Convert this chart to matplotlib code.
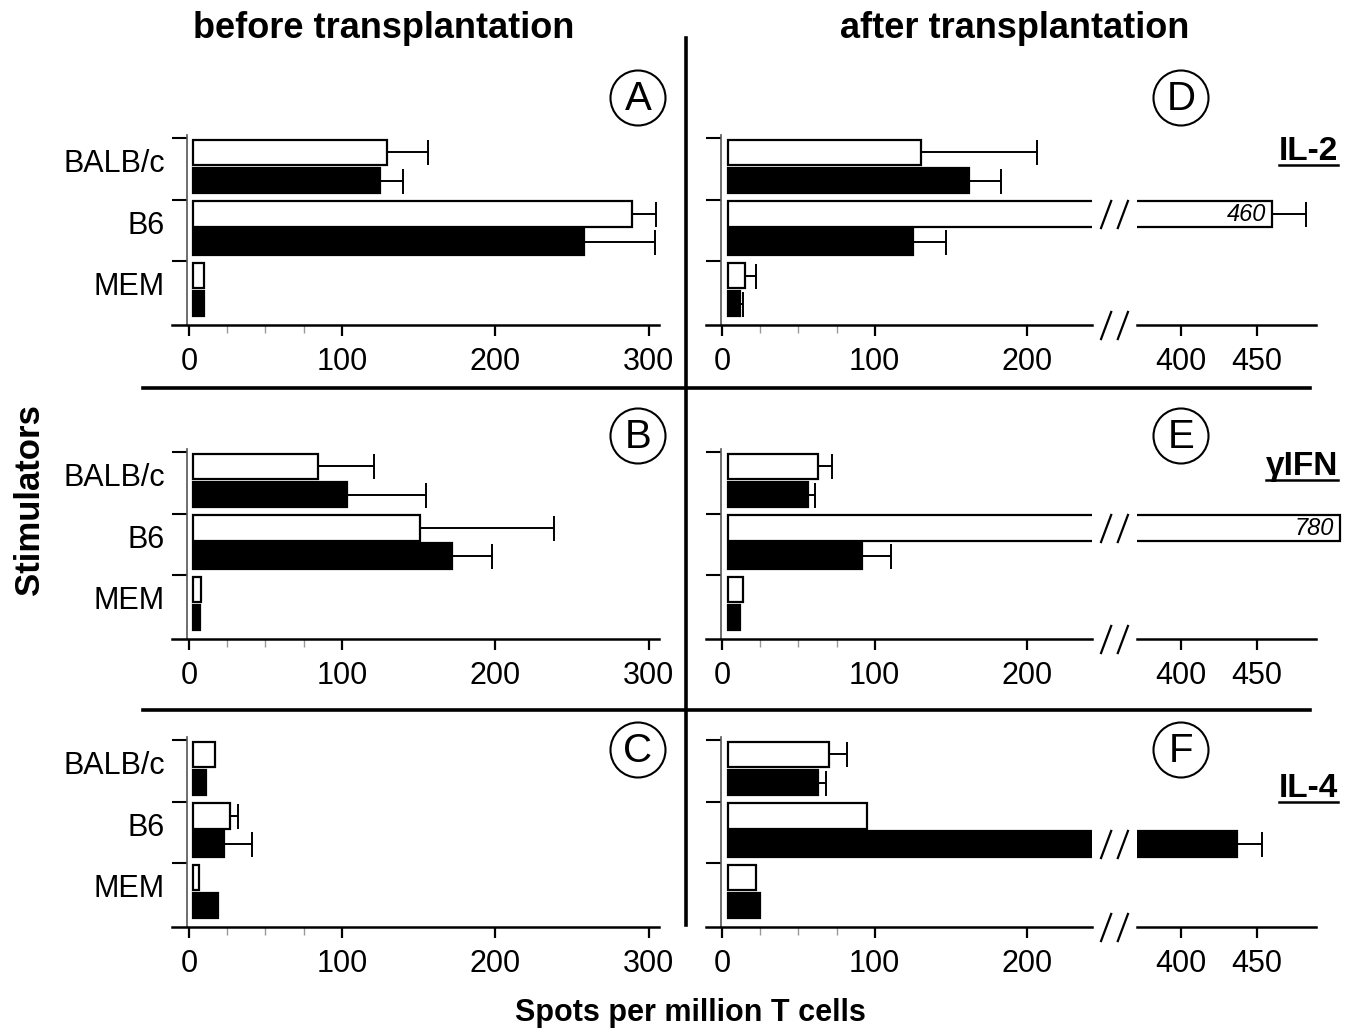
import matplotlib
matplotlib.use("Agg")
import numpy as np
import matplotlib.pyplot as plt
import matplotlib.transforms as mtransforms
from matplotlib.lines import Line2D
from matplotlib.patches import Circle
from matplotlib.path import Path

plt.rcParams['font.family'] = ['Liberation Sans', 'DejaVu Sans']

# 刺激细胞
stimulators = ["BALB/c", "B6", "MEM"]

# 移植前 (A: IL-2, B: γIFN, C: IL-4)
a_open = [129, 289, 10]
a_open_err = [27, 16, 0]
a_filled = [125, 258, 10]
a_filled_err = [15, 46, 0]

b_open = [84, 151, 8]
b_open_err = [37, 87, 0]
b_filled = [103, 172, 7]
b_filled_err = [52, 26, 0]

c_open = [17, 27, 6.5]
c_open_err = [0, 5, 0]
c_filled = [11, 23, 19]
c_filled_err = [0, 18, 0]

# 移植后 (D: IL-2, E: γIFN, F: IL-4)
d_open = [130, 460, 15]
d_open_err = [76, 22, 7]
d_filled = [162, 125, 12]
d_filled_err = [21, 22, 2]

e_open = [63, 780, 14]
e_open_err = [9, 0, 0]
e_filled = [56, 92, 12]
e_filled_err = [5, 19, 0]

f_open = [70, 95, 22]
f_open_err = [12, 0, 0]
f_filled = [63, 437, 25]
f_filled_err = [5, 16, 0]

cytokines = ["IL-2", "γIFN", "IL-4"]
panel_letters_left = ["A", "B", "C"]
panel_letters_right = ["D", "E", "F"]
left_ticks = [0, 100, 200, 300]
right_ticks_lo = [0, 100, 200]
right_ticks_hi = [400, 450]
minor_ticks = [25, 50, 75]
value_labels = {"D": (1, "open", "460"), "E": (1, "open", "780")}

# 版面 (像素)
W, H = 1356, 1030
G = 61.6
YTOP, YBOT = -0.05, 3.03
row_top = [138, 452, 740]
LO_MAX = 242        # 断轴前的上限
HI_MIN = 371        # 断轴后的下限
HI_AXIS_END = 489
HI_SHOW = 505       # 超出的条形画到这里
BREAK_X = 1114

# "//" 断轴符号
brk = Path([(-0.95, -1), (-0.2, 1), (0.2, -1), (0.95, 1)],
           [Path.MOVETO, Path.LINETO, Path.MOVETO, Path.LINETO])

fig = plt.figure(figsize=(W / 100, H / 100), dpi=100)


def box(x0, x1, y0):
    top = y0 + YTOP * G
    bot = y0 + YBOT * G
    return [x0 / W, 1 - bot / H, (x1 - x0) / W, (bot - top) / H]


def bars(ax, opn, opn_err, fil, fil_err, base):
    y = np.arange(3)
    for vals, errs, off, col in [(opn, opn_err, 0.235, "white"), (fil, fil_err, 0.69, "black")]:
        w = [min(v, HI_SHOW) - base for v in vals]
        ax.barh(y + off, w, left=base, height=0.41, color=col,
                edgecolor="black", linewidth=1.6)
        for yi, v, e in zip(y, vals, errs):
            if e > 0:
                ax.errorbar(v, yi + off, xerr=[[0], [e]], fmt="none", ecolor="black",
                            elinewidth=1.4, capsize=9, capthick=1.4)


def common(ax):
    ax.set_ylim(YBOT, YTOP)
    ax.spines["top"].set_visible(False)
    ax.spines["right"].set_visible(False)
    ax.spines["bottom"].set_linewidth(1.8)
    ax.tick_params(axis="x", which="major", length=8, width=1.6, pad=8, labelsize=22)
    ax.tick_params(axis="x", which="minor", length=6, width=1, color="#999999")
    ax.set_facecolor("none")


def break_mark(ax, y):
    tr = mtransforms.blended_transform_factory(fig.transFigure, ax.transData)
    ax.plot([BREAK_X / W], [y], marker=brk, markersize=21, color="black",
            markeredgewidth=1.6, linestyle="none", transform=tr, clip_on=False)


data_left = [(a_open, a_open_err, a_filled, a_filled_err),
             (b_open, b_open_err, b_filled, b_filled_err),
             (c_open, c_open_err, c_filled, c_filled_err)]
data_right = [(d_open, d_open_err, d_filled, d_filled_err),
              (e_open, e_open_err, e_filled, e_filled_err),
              (f_open, f_open_err, f_filled, f_filled_err)]

for i in range(3):
    # 左列
    ax = fig.add_axes(box(172, 659.3, row_top[i]))
    bars(ax, *data_left[i], base=3)
    common(ax)
    ax.set_xlim(-11, 307)
    ax.set_xticks(left_ticks)
    ax.set_xticks(minor_ticks, minor=True)
    ax.spines["left"].set_position(("data", -1.2))
    ax.spines["left"].set_color("#555555")
    ax.spines["left"].set_linewidth(1.2)
    ax.set_yticks([0, 1, 2])
    ax.set_yticklabels([])
    ax.set_yticks([0.37, 1.37, 2.37], minor=True)
    ax.set_yticklabels(stimulators, minor=True)
    ax.tick_params(axis="y", which="major", length=11, width=1.5, direction="out")
    ax.tick_params(axis="y", which="minor", length=0, pad=16, labelsize=22)

    # 右列, 断轴前
    ax1 = fig.add_axes(box(706, 1091.5, row_top[i]))
    bars(ax1, *data_right[i], base=4)
    common(ax1)
    ax1.set_xlim(-10.5, LO_MAX)
    ax1.set_xticks(right_ticks_lo)
    ax1.set_xticks(minor_ticks, minor=True)
    ax1.spines["left"].set_position(("data", -0.8))
    ax1.spines["left"].set_color("#555555")
    ax1.spines["left"].set_linewidth(1.2)
    ax1.set_yticks([0, 1, 2])
    ax1.set_yticklabels([])
    ax1.tick_params(axis="y", which="major", length=11, width=1.5, direction="out")

    # 右列, 断轴后
    ax2 = fig.add_axes(box(1137, 1342, row_top[i]))
    bars(ax2, *data_right[i], base=4)
    common(ax2)
    ax2.set_xlim(HI_MIN, HI_SHOW + 1)
    ax2.spines["bottom"].set_bounds(HI_MIN, HI_AXIS_END)
    ax2.spines["left"].set_visible(False)
    ax2.set_xticks(right_ticks_hi)
    ax2.set_yticks([])

    letter = panel_letters_right[i]
    if letter in value_labels:
        k, kind, txt = value_labels[letter]
        v = min(data_right[i][0 if kind == "open" else 2][k], HI_SHOW)
        off = 0.235 if kind == "open" else 0.69
        ax2.text(v - 4, k + off, txt, ha="right", va="center", fontsize=17, style="italic")

    # 断轴标记
    break_mark(ax1, YBOT)
    for vals, off in [(data_right[i][0], 0.235), (data_right[i][2], 0.69)]:
        for k, v in enumerate(vals):
            if v > LO_MAX:
                break_mark(ax1, k + off)

# 圆圈字母
circ_y = [98, 436, 750]
for i in range(3):
    for cx, lab in [(638, panel_letters_left[i]), (1181, panel_letters_right[i])]:
        fig.add_artist(Circle((cx / 100, (H - circ_y[i]) / 100), 0.275,
                              transform=fig.dpi_scale_trans, fill=False,
                              edgecolor="black", linewidth=1.5))
        fig.text(cx / W, 1 - (circ_y[i] + 1) / H, lab, ha="center", va="center", fontsize=29)

# 细胞因子标签 (带下划线)
cyt_base = [160, 475, 797]
for i, name in enumerate(cytokines):
    t = fig.text(1338 / W, 1 - cyt_base[i] / H, name, ha="right", va="baseline",
                 fontsize=24, fontweight="bold")
    fig.canvas.draw()
    bb = t.get_window_extent(renderer=fig.canvas.get_renderer())
    yl = 1 - (cyt_base[i] + 5) / H
    fig.add_artist(Line2D([bb.x0 / W, bb.x1 / W], [yl, yl], color="black", linewidth=1.8))

# 分隔线
fig.add_artist(Line2D([686 / W, 686 / W], [1 - 38 / H, 1 - 925 / H], color="black", linewidth=2.6))
for yy in [388, 710]:
    fig.add_artist(Line2D([143 / W, 1310 / W], [1 - yy / H, 1 - yy / H], color="black", linewidth=2.6))

# 标题
fig.text(384 / W, 1 - 28 / H, "before transplantation", ha="center", va="center",
         fontsize=26, fontweight="bold")
fig.text(1015 / W, 1 - 28 / H, "after transplantation", ha="center", va="center",
         fontsize=26, fontweight="bold")
fig.text(30 / W, 1 - 500 / H, "Stimulators", ha="center", va="center", rotation=90,
         fontsize=25, fontweight="bold")
fig.text(690 / W, 1 - 1013 / H, "Spots per million T cells", ha="center", va="center",
         fontsize=22, fontweight="bold")

fig.savefig("out.png", dpi=100)
